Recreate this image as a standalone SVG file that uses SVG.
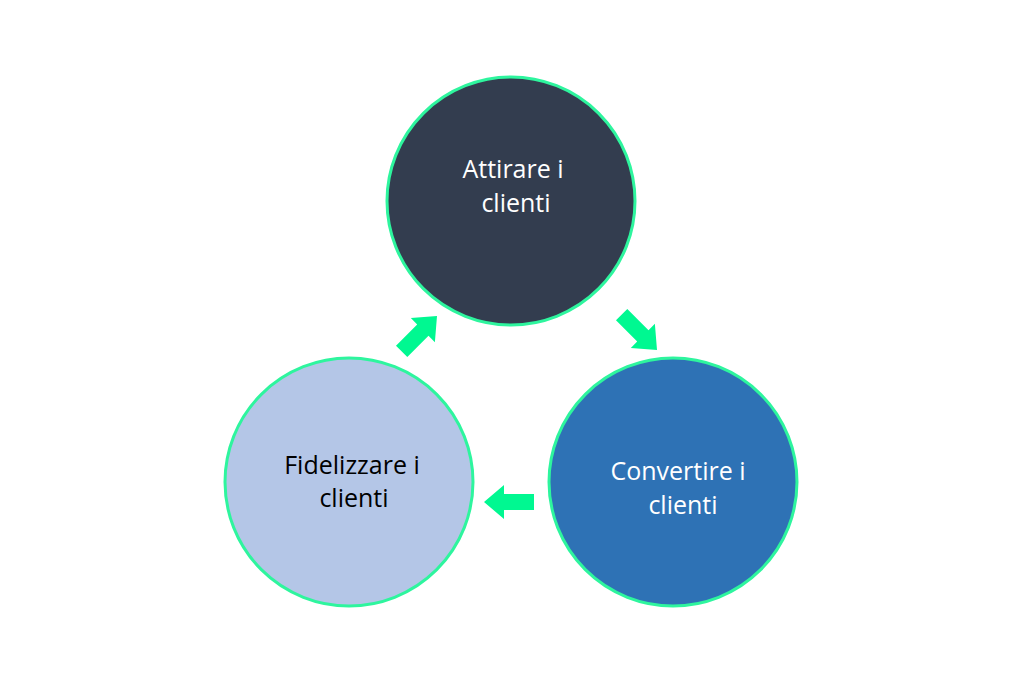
<svg xmlns="http://www.w3.org/2000/svg" width="1024" height="683" viewBox="0 0 1024 683">
<style>
.c{stroke:#2ef59e;stroke-width:3}
.t{font-family:"Open Sans","Noto Sans",sans-serif;font-size:25px;text-anchor:middle}
.a{fill:#00f891}
</style>
<defs><polygon id="arr" class="a" points="-50,-8 -20,-8 -20,-17 0,0 -20,17 -20,8 -50,8"/></defs>
<rect width="1024" height="683" fill="#fff"/>
<g id="attirare"><circle class="c" cx="511" cy="201" r="124" fill="#333d4f"/>
<text class="t" fill="#fff" x="513" y="178">Attirare i</text><text class="t" fill="#fff" x="516" y="212">clienti</text></g>
<g id="convertire"><circle class="c" cx="673" cy="482" r="124" fill="#2e72b5"/>
<text class="t" fill="#fff" x="678" y="480">Convertire i</text><text class="t" fill="#fff" x="683" y="514">clienti</text></g>
<g id="fidelizzare"><circle class="c" cx="349" cy="482" r="124" fill="#b4c6e7"/>
<text class="t" fill="#000" x="352" y="474">Fidelizzare i</text><text class="t" fill="#000" x="354" y="507">clienti</text></g>
<g id="connectors">
<use href="#arr" transform="translate(657,350) rotate(45)"/>
<use href="#arr" transform="translate(484,502) rotate(180)"/>
<use href="#arr" transform="translate(437,316) rotate(-45)"/>
</g>
</svg>
